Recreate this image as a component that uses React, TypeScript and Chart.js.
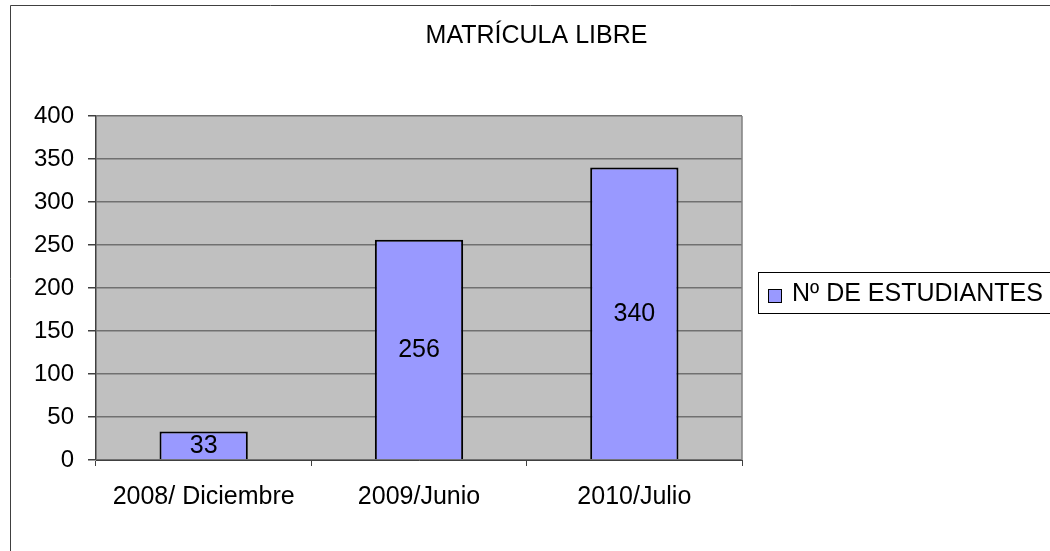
import React, { useEffect, useRef } from "react";
import { Chart, registerables } from "chart.js";

Chart.register(...registerables);

const titleText = "MATRÍCULA LIBRE";
const categories = ["2008/ Diciembre", "2009/Junio", "2010/Julio"];
const seriesLabel = "Nº DE ESTUDIANTES";
const students = [33, 256, 340];
const yMin = 0;
const yMax = 400;
const yStep = 50;

const FONT = "'Liberation Sans', Arial, sans-serif";
const FONT_SIZE = 25;
const TICK_FONT_SIZE = 24;
const BAR_COLOR = "#9999FF";

const framePlugin = {
  id: "frame",
  beforeDraw(chart: any) {
    const { ctx, chartArea, width, height } = chart;
    ctx.save();
    ctx.fillStyle = "#ffffff";
    ctx.fillRect(0, 0, width, height);
    // outer chart border (left and top visible)
    ctx.strokeStyle = "#404040";
    ctx.lineWidth = 1;
    ctx.beginPath();
    ctx.moveTo(10.5, height + 2);
    ctx.lineTo(10.5, 5.5);
    ctx.lineTo(width + 2, 5.5);
    ctx.stroke();
    // plot area
    ctx.fillStyle = "#C0C0C0";
    ctx.fillRect(chartArea.left, chartArea.top, chartArea.right - chartArea.left, chartArea.bottom - chartArea.top);
    ctx.restore();
  },
  afterDraw(chart: any) {
    const { ctx, chartArea } = chart;
    ctx.save();
    // plot area right border
    ctx.strokeStyle = "#808080";
    ctx.lineWidth = 1.5;
    ctx.beginPath();
    ctx.moveTo(chartArea.right, chartArea.top);
    ctx.lineTo(chartArea.right, chartArea.bottom);
    ctx.stroke();
    // title
    ctx.fillStyle = "#000000";
    ctx.font = `${FONT_SIZE}px ${FONT}`;
    ctx.textAlign = "center";
    ctx.textBaseline = "middle";
    ctx.fillText(titleText, 536.5, 36);
    // legend
    const ds = chart.data.datasets[0];
    ctx.strokeStyle = "#000000";
    ctx.lineWidth = 1;
    ctx.strokeRect(758.5, 272.5, 320, 41);
    ctx.fillStyle = ds.backgroundColor;
    ctx.fillRect(768, 289, 13, 13);
    ctx.strokeRect(768.5, 289.5, 13, 13);
    ctx.fillStyle = "#000000";
    ctx.textAlign = "left";
    ctx.fillText(ds.label, 792, 294);
    ctx.restore();
  },
};

const valueLabelPlugin = {
  id: "valueLabels",
  afterDatasetsDraw(chart: any) {
    const { ctx } = chart;
    const meta = chart.getDatasetMeta(0);
    const values = chart.data.datasets[0].data;
    ctx.save();
    ctx.fillStyle = "#000000";
    ctx.font = `${FONT_SIZE}px ${FONT}`;
    ctx.textAlign = "center";
    ctx.textBaseline = "middle";
    meta.data.forEach((bar: any, i: number) => {
      const p = bar.getProps(["x", "y", "base"], true);
      ctx.fillText(String(values[i]), p.x, (p.y + p.base) / 2 + 1);
    });
    ctx.restore();
  },
};

export default function App() {
  const ref = useRef<HTMLCanvasElement>(null);
  useEffect(() => {
    if (!ref.current) return;
    const chart = new Chart(ref.current, {
      type: "bar",
      data: {
        labels: categories,
        datasets: [
          {
            label: seriesLabel,
            data: students,
            backgroundColor: BAR_COLOR,
            borderColor: "#000000",
            borderWidth: 2,
            categoryPercentage: 1,
            barPercentage: 0.41,
          },
        ],
      },
      options: {
        responsive: false,
        animation: false,
        layout: { padding: { left: 10, top: 116, right: 308, bottom: 0 } },
        plugins: {
          legend: { display: false },
          title: { display: false },
          tooltip: { enabled: false },
        },
        scales: {
          x: {
            afterFit: (s: any) => {
              s.height = 91;
            },
            grid: {
              offset: true,
              drawOnChartArea: false,
              tickLength: 6,
              tickColor: "#404040",
            },
            border: { display: true, color: "#404040", width: 1 },
            ticks: {
              color: "#000000",
              font: { family: FONT, size: FONT_SIZE },
              padding: 16,
              maxRotation: 0,
            },
          },
          y: {
            min: yMin,
            max: yMax,
            afterFit: (s: any) => {
              s.width = 86;
            },
            grid: {
              color: "#707070",
              lineWidth: 1.5,
              tickLength: 8,
              tickColor: "#404040",
            },
            border: { display: true, color: "#404040", width: 1.5 },
            ticks: {
              stepSize: yStep,
              color: "#000000",
              font: { family: FONT, size: TICK_FONT_SIZE },
              padding: 14,
            },
          },
        },
      },
      plugins: [framePlugin, valueLabelPlugin],
    });
    return () => chart.destroy();
  }, []);
  return (
    <div style={{ position: "absolute", left: 0, top: 0, width: 1050, height: 551 }}>
      <canvas ref={ref} width={1050} height={551} style={{ width: 1050, height: 551, display: "block" }} />
    </div>
  );
}
